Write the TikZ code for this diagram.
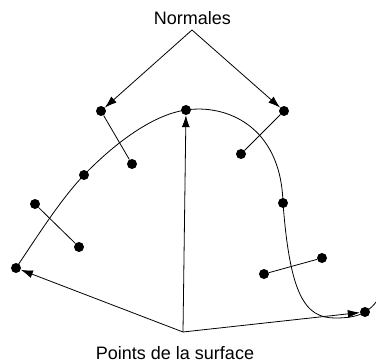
\documentclass[tikz,border=0pt]{standalone}
\usepackage{fontspec}
\setmainfont{Liberation Sans}
\usetikzlibrary{arrows.meta}
\begin{document}
\begin{tikzpicture}[x=1pt,y=-1pt,
  dot/.style={circle,fill=black,inner sep=0pt,minimum size=10pt},
  lbl/.style={font=\fontsize{18}{21}\selectfont,inner sep=0pt,anchor=base},
  ln/.style={line width=0.8pt},
  arr/.style={line width=0.8pt,-{Latex[length=12pt,width=8pt]}}]
\useasboundingbox (0,0) rectangle (376,362);
% labels
\node[lbl] (nt) at (192.5,24) {Normales};
\node[lbl] (pt) at (175,359) {Points de la surface};
\coordinate (na) at (192,30);
\coordinate (pa) at (183,332);
% surface points
\node[dot] (F) at (16,268) {};
\node[dot] (D) at (84,175) {};
\node[dot] (B) at (186,110) {};
\node[dot] (G) at (283,203) {};
\node[dot] (I) at (365,312) {};
% normal ends
\node[dot] (A) at (101,111) {};
\node[dot] (A2) at (132,164) {};
\node[dot] (C) at (284,111) {};
\node[dot] (C2) at (241,154) {};
\node[dot] (E) at (35,204) {};
\node[dot] (E2) at (79,247) {};
\node[dot] (H) at (264,274) {};
\node[dot] (H2) at (322,258) {};
% curve
\draw[ln] (F.center) .. controls (35,240) and (60,200) .. (D.center)
  .. controls (110,148) and (150,115) .. (B.center)
  .. controls (225,104) and (281,125) .. (G.center)
  .. controls (290,295) and (305,318) .. (335,318)
  .. controls (350,318) and (358,316) .. (I.center)
  .. controls (370,309) and (374,305) .. (376,302);
% normals
\draw[ln] (A) -- (A2);
\draw[ln] (C) -- (C2);
\draw[ln] (E) -- (E2);
\draw[ln] (H) -- (H2);
% label arrows
\draw[arr] (na) -- (A);
\draw[arr] (na) -- (C);
\draw[arr] (pa) -- (F);
\draw[arr] (pa) -- (B);
\draw[arr] (pa) -- (I);
\end{tikzpicture}
\end{document}
